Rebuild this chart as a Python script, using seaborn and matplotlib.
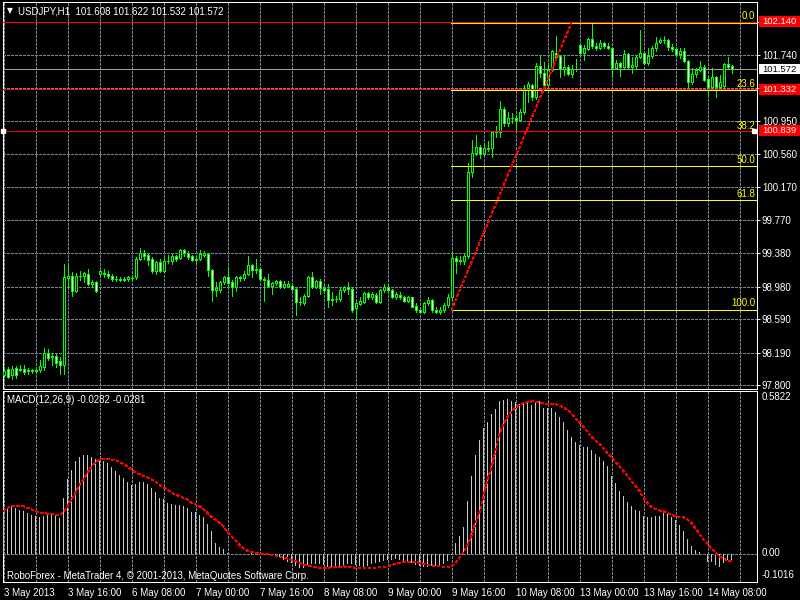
import numpy as np
import pandas as pd
import seaborn as sns
import matplotlib.pyplot as plt
from matplotlib.patches import Rectangle
from matplotlib.transforms import blended_transform_factory

# USDJPY H1 candles, 3 May 2013 00:00 .. 14 May 2013 14:00
open_ = [97.92, 98.00, 97.92, 98.01, 97.99, 98.00, 97.97, 97.98, 97.97, 97.98,
         98.02, 98.19, 98.14, 98.15, 98.09, 98.04, 99.08, 99.11, 98.93, 99.10,
         99.11, 99.13, 99.01, 99.03, 99.13, 99.14, 99.13, 99.11, 99.07, 99.07,
         99.06, 99.07, 99.08, 99.09, 99.31, 99.38, 99.36, 99.31, 99.16, 99.27,
         99.17, 99.29, 99.28, 99.34, 99.32, 99.41, 99.38, 99.34, 99.30, 99.31,
         99.36, 99.37, 99.18, 98.94, 98.94, 99.03, 99.09, 99.03, 98.97, 99.09,
         99.08, 99.13, 99.24, 99.18, 99.19, 99.07, 99.06, 98.99, 99.02, 99.04,
         98.97, 98.99, 98.99, 98.95, 98.79, 98.78, 98.87, 99.09, 98.97, 99.04,
         98.96, 98.95, 98.82, 98.83, 98.83, 98.94, 98.97, 98.95, 98.72, 98.77,
         98.80, 98.90, 98.86, 98.88, 98.79, 98.94, 98.98, 98.94, 98.86, 98.88,
         98.85, 98.81, 98.85, 98.75, 98.70, 98.68, 98.78, 98.82, 98.70, 98.68,
         98.70, 98.76, 98.85, 99.32, 99.28, 99.28, 99.34, 100.34, 100.57, 100.64,
         100.57, 100.62, 100.63, 100.82, 100.82, 101.10, 100.93, 100.99, 100.99, 100.97,
         101.06, 101.35, 101.38, 101.24, 101.61, 101.53, 101.38, 101.56, 101.77, 101.73,
         101.57, 101.60, 101.52, 101.57, 101.86, 101.76, 101.81, 101.93, 101.85, 101.83,
         101.88, 101.85, 101.82, 101.59, 101.65, 101.60, 101.75, 101.60, 101.61, 101.72,
         101.77, 101.64, 101.73, 101.83, 101.90, 101.92, 101.92, 101.84, 101.81, 101.75,
         101.79, 101.67, 101.42, 101.52, 101.56, 101.60, 101.45, 101.36, 101.48, 101.36,
         101.37, 101.63, 101.608]
high_ = [97.99, 98.02, 98.03, 98.03, 98.04, 98.04, 98.01, 98.00, 98.00, 98.10,
         98.25, 98.24, 98.19, 98.18, 98.14, 99.25, 99.22, 99.15, 99.14, 99.17,
         99.15, 99.19, 99.06, 99.05, 99.18, 99.19, 99.16, 99.13, 99.10, 99.09,
         99.09, 99.10, 99.10, 99.33, 99.44, 99.42, 99.38, 99.33, 99.29, 99.31,
         99.32, 99.36, 99.38, 99.36, 99.43, 99.43, 99.40, 99.36, 99.35, 99.41,
         99.40, 99.38, 99.19, 99.03, 99.05, 99.11, 99.21, 99.06, 99.11, 99.11,
         99.16, 99.35, 99.25, 99.31, 99.21, 99.09, 99.13, 99.03, 99.06, 99.06,
         99.04, 99.04, 99.01, 98.97, 98.85, 98.89, 99.11, 99.15, 99.06, 99.07,
         99.01, 99.01, 98.91, 98.87, 98.97, 98.99, 99.03, 98.97, 98.79, 98.85,
         98.92, 98.91, 98.91, 98.90, 98.95, 99.01, 99.01, 98.95, 98.91, 98.91,
         98.87, 98.87, 98.86, 98.78, 98.73, 98.79, 98.85, 98.83, 98.73, 98.73,
         98.78, 98.89, 99.39, 99.35, 99.34, 99.37, 100.45, 100.73, 100.79, 100.67,
         100.69, 100.72, 100.84, 100.89, 101.19, 101.12, 101.06, 101.05, 101.02, 101.10,
         101.38, 101.42, 101.40, 101.64, 101.73, 101.66, 101.64, 101.80, 101.97, 101.74,
         101.74, 101.62, 101.62, 101.69, 101.89, 101.86, 101.94, 102.13, 101.88, 101.92,
         101.90, 101.89, 101.83, 101.68, 101.66, 101.80, 101.76, 101.72, 101.73, 102.04,
         101.78, 101.82, 101.85, 101.96, 101.94, 101.97, 101.93, 101.87, 101.82, 101.82,
         101.82, 101.68, 101.58, 101.58, 101.67, 101.62, 101.48, 101.58, 101.49, 101.50,
         101.64, 101.72, 101.622]
low_ = [97.90, 97.89, 97.88, 97.89, 97.97, 97.94, 97.94, 97.95, 97.95, 97.96,
        97.99, 98.10, 98.05, 98.02, 97.94, 97.94, 98.97, 98.87, 98.91, 99.06,
        99.03, 99.00, 98.99, 98.92, 99.10, 99.09, 99.08, 99.05, 99.04, 99.05,
        99.04, 99.05, 99.05, 99.07, 99.30, 99.31, 99.24, 99.14, 99.13, 99.15,
        99.15, 99.26, 99.25, 99.29, 99.31, 99.35, 99.31, 99.28, 99.27, 99.30,
        99.33, 99.11, 98.81, 98.87, 98.92, 99.01, 98.99, 98.87, 98.93, 99.05,
        99.06, 99.12, 99.09, 99.14, 99.06, 98.81, 98.97, 98.89, 99.00, 98.96,
        98.96, 98.97, 98.94, 98.64, 98.76, 98.76, 98.85, 98.96, 98.96, 98.89,
        98.91, 98.73, 98.76, 98.79, 98.81, 98.91, 98.89, 98.68, 98.58, 98.76,
        98.78, 98.83, 98.83, 98.78, 98.78, 98.91, 98.91, 98.84, 98.83, 98.83,
        98.79, 98.79, 98.73, 98.68, 98.66, 98.67, 98.76, 98.68, 98.66, 98.65,
        98.68, 98.74, 98.82, 99.14, 99.25, 99.25, 99.32, 100.29, 100.55, 100.51,
        100.55, 100.60, 100.53, 100.76, 100.76, 100.90, 100.90, 100.93, 100.84, 100.96,
        101.04, 101.18, 101.20, 101.22, 101.48, 101.36, 101.36, 101.55, 101.68, 101.48,
        101.50, 101.50, 101.48, 101.55, 101.75, 101.68, 101.80, 101.82, 101.80, 101.81,
        101.82, 101.81, 101.49, 101.58, 101.49, 101.59, 101.58, 101.53, 101.59, 101.70,
        101.63, 101.62, 101.70, 101.79, 101.88, 101.88, 101.80, 101.79, 101.72, 101.71,
        101.66, 101.35, 101.40, 101.48, 101.55, 101.43, 101.25, 101.35, 101.24, 101.35,
        101.34, 101.58, 101.532]
close_ = [97.97, 97.90, 98.00, 97.92, 98.00, 97.96, 97.98, 97.97, 97.99, 98.03,
          98.19, 98.13, 98.15, 98.07, 98.04, 99.09, 99.11, 98.93, 99.10, 99.11,
          99.14, 99.01, 99.03, 98.93, 99.16, 99.13, 99.11, 99.07, 99.07, 99.06,
          99.07, 99.09, 99.08, 99.31, 99.38, 99.35, 99.30, 99.16, 99.27, 99.16,
          99.29, 99.29, 99.34, 99.31, 99.42, 99.38, 99.33, 99.30, 99.31, 99.37,
          99.38, 99.18, 98.94, 98.96, 99.03, 99.09, 99.02, 98.97, 99.09, 99.08,
          99.13, 99.24, 99.18, 99.19, 99.07, 99.06, 98.99, 99.02, 99.04, 98.97,
          99.01, 99.01, 98.95, 98.79, 98.79, 98.87, 99.09, 98.97, 99.04, 98.96,
          98.94, 98.82, 98.83, 98.83, 98.94, 98.97, 98.95, 98.70, 98.78, 98.81,
          98.90, 98.86, 98.89, 98.79, 98.94, 98.98, 98.94, 98.85, 98.89, 98.85,
          98.81, 98.85, 98.74, 98.70, 98.68, 98.78, 98.82, 98.70, 98.68, 98.70,
          98.76, 98.85, 99.32, 99.28, 99.30, 99.34, 100.34, 100.57, 100.64, 100.56,
          100.63, 100.63, 100.82, 100.82, 101.10, 100.93, 100.99, 100.99, 100.97, 101.06,
          101.35, 101.39, 101.24, 101.61, 101.53, 101.38, 101.56, 101.79, 101.72, 101.57,
          101.60, 101.52, 101.57, 101.57, 101.76, 101.82, 101.93, 101.85, 101.83, 101.88,
          101.85, 101.82, 101.59, 101.65, 101.60, 101.75, 101.60, 101.62, 101.72, 101.77,
          101.64, 101.73, 101.83, 101.89, 101.92, 101.92, 101.84, 101.81, 101.75, 101.79,
          101.67, 101.42, 101.52, 101.56, 101.60, 101.44, 101.36, 101.48, 101.36, 101.42,
          101.63, 101.60, 101.572]

# MACD(12,26,9): main (histogram) and signal (red dotted)
macd_main = [0.169, 0.166, 0.165, 0.163, 0.157, 0.153, 0.145, 0.136, 0.133, 0.130,
             0.135, 0.139, 0.140, 0.135, 0.127, 0.199, 0.265, 0.300, 0.330, 0.345,
             0.352, 0.352, 0.345, 0.338, 0.334, 0.330, 0.323, 0.310, 0.295, 0.280,
             0.270, 0.255, 0.245, 0.250, 0.255, 0.255, 0.250, 0.235, 0.220, 0.200,
             0.195, 0.180, 0.178, 0.175, 0.175, 0.170, 0.163, 0.148, 0.148, 0.138,
             0.130, 0.106, 0.082, 0.038, 0.024, 0.018, 0.003, 0.000, 0.000, 0.000,
             0.000, 0.000, 0.003, 0.005, -0.001, -0.003, -0.006, -0.006, -0.010, -0.012,
             -0.022, -0.030, -0.035, -0.045, -0.050, -0.050, -0.042, -0.036, -0.036, -0.036,
             -0.042, -0.048, -0.051, -0.048, -0.046, -0.042, -0.036, -0.036, -0.042, -0.046,
             -0.048, -0.046, -0.036, -0.034, -0.031, -0.027, -0.024, -0.022, -0.018, -0.022,
             -0.027, -0.030, -0.034, -0.042, -0.046, -0.048, -0.048, -0.046, -0.046, -0.042,
             -0.036, -0.027, -0.006, 0.036, 0.063, 0.096, 0.187, 0.277, 0.352, 0.404,
             0.449, 0.470, 0.497, 0.516, 0.543, 0.549, 0.552, 0.545, 0.540, 0.533,
             0.533, 0.540, 0.531, 0.543, 0.543, 0.519, 0.519, 0.519, 0.507, 0.488,
             0.470, 0.440, 0.416, 0.398, 0.386, 0.380, 0.380, 0.371, 0.356, 0.344,
             0.332, 0.311, 0.277, 0.251, 0.223, 0.205, 0.183, 0.169, 0.157, 0.151,
             0.133, 0.129, 0.129, 0.135, 0.133, 0.145, 0.145, 0.130, 0.121, 0.103,
             0.082, 0.051, 0.027, 0.014, 0.006, 0.000, -0.030, -0.030, -0.042, -0.048,
             -0.034, -0.024, -0.0282]
macd_signal = [0.151, 0.163, 0.169, 0.171, 0.171, 0.169, 0.163, 0.157, 0.151, 0.147,
               0.145, 0.142, 0.141, 0.139, 0.139, 0.147, 0.169, 0.193, 0.217, 0.244,
               0.265, 0.289, 0.311, 0.326, 0.334, 0.338, 0.338, 0.335, 0.334, 0.328,
               0.320, 0.311, 0.299, 0.289, 0.283, 0.277, 0.271, 0.265, 0.256, 0.244,
               0.235, 0.229, 0.217, 0.211, 0.205, 0.199, 0.193, 0.181, 0.175, 0.169,
               0.157, 0.145, 0.130, 0.121, 0.109, 0.096, 0.078, 0.060, 0.046, 0.030,
               0.018, 0.010, 0.006, 0.002, 0.000, 0.000, -0.002, -0.006, -0.008, -0.012,
               -0.014, -0.018, -0.022, -0.027, -0.032, -0.039, -0.042, -0.046, -0.049, -0.051,
               -0.051, -0.051, -0.049, -0.048, -0.047, -0.046, -0.047, -0.048, -0.051, -0.052,
               -0.053, -0.052, -0.051, -0.051, -0.049, -0.048, -0.046, -0.041, -0.037, -0.034,
               -0.031, -0.029, -0.029, -0.030, -0.033, -0.036, -0.040, -0.042, -0.045, -0.046,
               -0.048, -0.047, -0.046, -0.034, -0.015, 0.005, 0.030, 0.066, 0.109, 0.145,
               0.205, 0.265, 0.308, 0.368, 0.428, 0.464, 0.488, 0.507, 0.521, 0.531,
               0.537, 0.540, 0.543, 0.543, 0.540, 0.537, 0.533, 0.533, 0.533, 0.528,
               0.521, 0.513, 0.500, 0.482, 0.470, 0.452, 0.434, 0.416, 0.404, 0.392,
               0.374, 0.359, 0.344, 0.328, 0.311, 0.295, 0.277, 0.259, 0.241, 0.223,
               0.199, 0.181, 0.166, 0.159, 0.154, 0.151, 0.145, 0.139, 0.133, 0.130,
               0.130, 0.121, 0.109, 0.090, 0.070, 0.051, 0.036, 0.018, 0.002, -0.010,
               -0.018, -0.024, -0.0281]

# axis texts
price_ticks = [97.800, 98.190, 98.590, 98.980, 99.380, 99.770, 100.170,
               100.560, 100.950, 101.350, 101.740, 102.130]
hidden_ticks = [101.350, 102.130]   # covered by the line labels in MT4
time_labels = ["3 May 2013", "3 May 16:00", "6 May 08:00", "7 May 00:00",
               "7 May 16:00", "8 May 08:00", "9 May 00:00", "9 May 16:00",
               "10 May 08:00", "13 May 00:00", "13 May 16:00", "14 May 08:00"]

# fibonacci retracement and horizontal lines
fib_levels = [0.0, 23.6, 38.2, 50.0, 61.8, 100.0]
fib_high, fib_low = 102.128, 98.700
fib_start, fib_end = 112, 142
red_lines = [102.140, 101.332, 100.839]
bid = 101.572

LW = 0.7
DOTS = (0, (2.6, 2.6))
sns.set_theme(style="dark", rc={
    "figure.facecolor": "black", "axes.facecolor": "black",
    "axes.edgecolor": "white", "axes.linewidth": LW,
    "text.color": "white", "xtick.color": "white", "ytick.color": "white",
    "lines.antialiased": False, "patch.antialiased": False,
})
plt.rcParams['font.family'] = ['Liberation Sans', 'DejaVu Sans']

W, H = 800, 600
fig = plt.figure(figsize=(8, 6), dpi=100)


def px_axes(x0, y0, x1, y1):
    return fig.add_axes([x0 / W, 1 - y1 / H, (x1 - x0) / W, (y1 - y0) / H])


ax = px_axes(2.5, 2, 757, 388.5)
am = px_axes(2.5, 390.5, 757, 582)

idx = np.arange(len(close_))
df = pd.DataFrame({"open": open_, "high": high_, "low": low_, "close": close_}, index=idx)
xlim = ((2.5 - 3.5) / 4, (757 - 3.5) / 4)
grid_kw = dict(color="#778899", linestyle=(0, (3, 2)), linewidth=LW)

for a in (ax, am):
    a.set_xlim(*xlim)
    a.set_xticks(range(0, 189, 16))
    a.set_xticks(range(8, 189, 16), minor=True)
    a.grid(True, which="both", axis="x", **grid_kw)
    a.set_axisbelow(True)
    for s in a.spines.values():
        s.set_color("white")
        s.set_linewidth(LW)

# ---- price panel
ax.set_ylim(97.764, 102.373)
ax.set_yticks(price_ticks)
ax.set_yticklabels(["" if v in hidden_ticks else f"{v:.3f}" for v in price_ticks])
ax.yaxis.tick_right()
ax.grid(True, axis="y", **grid_kw)
ax.tick_params(axis="y", length=2, width=LW, pad=1.5, labelsize=7)
ax.tick_params(axis="x", which="both", length=0, labelbottom=False)

up = df["close"] >= df["open"]
ax.vlines(idx, df["low"], df["high"], color="#00FF00", lw=LW, zorder=3)
ax.bar(idx, (df["close"] - df["open"]).abs(), bottom=df[["open", "close"]].min(axis=1),
       width=0.5, color=np.where(up, "black", "white"), edgecolor="#00FF00",
       linewidth=LW, zorder=4)

ax.axhline(bid, color="#A0A0A0", lw=LW, zorder=2)
for lv in fib_levels:
    y = fib_high - (fib_high - fib_low) * lv / 100
    if lv != 38.2:  # the 38.2 level sits under the red 100.839 line
        ax.hlines(y, fib_start - 0.1, xlim[1], color="yellow", lw=LW, zorder=5)
    ax.text(xlim[1] - 0.4, y + 0.02, f"{lv:.1f}", color="yellow", ha="right",
            va="bottom", fontsize=7, zorder=6)
for v in red_lines:
    ax.axhline(v, color="red", lw=LW, zorder=6)
sns.lineplot(x=[fib_start, fib_end], y=[fib_low, fib_high], ax=ax, color="red",
             linestyle=DOTS, lw=LW, zorder=7)
ax.plot([-0.05, 187.6], [100.839, 100.839], "s", ms=2.5, color="white",
        clip_on=False, zorder=8)

# price boxes on the scale
tr = blended_transform_factory(fig.transFigure, ax.transData)
box_h = 10.5 * (102.373 - 97.764) / 386.5
for v, fc, tc in [(102.140, "red", "white"), (101.332, "red", "white"),
                  (100.839, "red", "white"), (bid, "white", "black")]:
    ax.add_patch(Rectangle((759 / W, v - box_h / 2), 41 / W, box_h, transform=tr,
                           facecolor=fc, edgecolor="none", clip_on=False, zorder=9))
    ax.text(762 / W, v, f"{v:.3f}", transform=tr, color=tc, fontsize=6.8,
            va="center", ha="left", clip_on=False, zorder=10)

# ---- MACD panel
am.set_ylim(-0.1016, 0.5822)
am.set_yticks([0.0])
am.set_yticklabels([])
am.grid(True, axis="y", **grid_kw)
am.tick_params(axis="y", length=0)
am.bar(idx, macd_main, width=0.25, color="#C8C8C8", linewidth=0, zorder=3)
sns.lineplot(x=idx, y=macd_signal, ax=am, color="red", linestyle=DOTS,
             lw=LW, zorder=4)
am.set_xticklabels(time_labels)
am.tick_params(axis="x", which="major", length=3, width=LW, pad=1, labelsize=7,
               direction="out")
am.tick_params(axis="x", which="minor", length=0)
for lbl in am.get_xticklabels():
    lbl.set_horizontalalignment("left")
for a in (ax, am):
    a.set_xlabel("")
    a.set_ylabel("")

for txt, ypx in [("0.5822", 397), ("0.00", 553), ("-0.1016", 575)]:
    fig.text(762 / W, 1 - ypx / H, txt, fontsize=7, va="center", ha="left")

fig.text(7 / W, 1 - 11 / H, "\u25BC", fontsize=5.5, va="center", ha="left",
         family=["DejaVu Sans"])
fig.text(18 / W, 1 - 11 / H, "USDJPY,H1  101.608 101.622 101.532 101.572",
         fontsize=7, va="center", ha="left")
fig.text(7 / W, 1 - 400 / H, "MACD(12,26,9) -0.0282 -0.0281", fontsize=7,
         va="center", ha="left")
fig.text(7 / W, 1 - 576 / H,
         "RoboForex - MetaTrader 4, \u00A9 2001-2013, MetaQuotes Software Corp.",
         fontsize=7, va="center", ha="left")

fig.savefig("out.png", dpi=100, facecolor="black")
